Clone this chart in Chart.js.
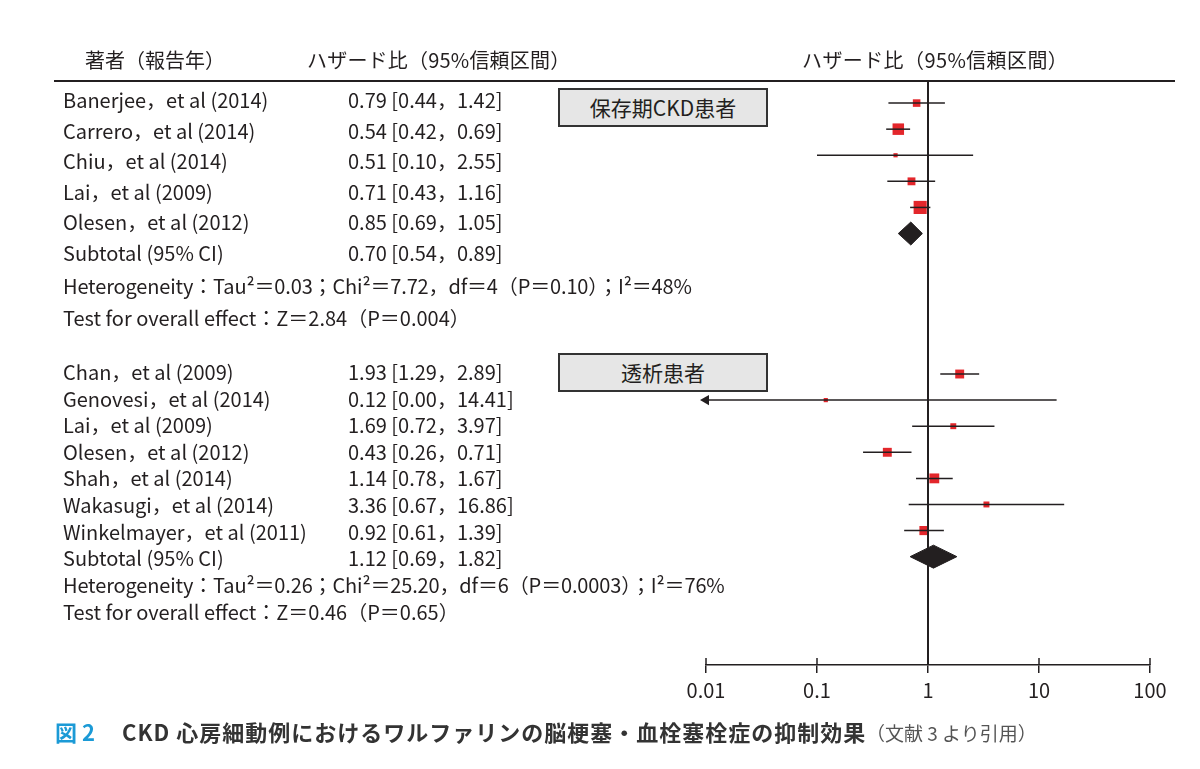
<!DOCTYPE html>
<html><head><meta charset="utf-8">
<script src="https://cdn.jsdelivr.net/npm/chart.js@4.4.1/dist/chart.umd.min.js"></script>
<style>
html,body{margin:0;padding:0;background:#fff;}
#wrap{position:relative;width:1200px;height:769px;overflow:hidden;font-family:"Noto Sans CJK JP","Noto Sans",sans-serif;color:#231f20;}
#cv{position:absolute;left:0;top:0;}
.t{position:absolute;white-space:nowrap;font-size:20px;line-height:24px;}
.box{position:absolute;background:#e6e6e6;border:2px solid #333;box-sizing:border-box;text-align:center;font-size:21px;line-height:35px;}
.rule{position:absolute;left:54px;width:1121px;top:80px;height:0;border-top:2px solid #231f20;}
.cap{position:absolute;white-space:nowrap;font-weight:bold;font-size:22px;line-height:28px;}
</style></head>
<body>
<div id="wrap">
<canvas id="cv" width="1200" height="769"></canvas>
<div class="rule"></div>
</div>
<script>
// ---------- data ----------
const group1Studies = ['Banerjee，et al (2014)','Carrero，et al (2014)','Chiu，et al (2014)','Lai，et al (2009)','Olesen，et al (2012)'];
const group1HR = [0.79, 0.54, 0.51, 0.71, 0.85];
const group1Lower = [0.44, 0.42, 0.10, 0.43, 0.69];
const group1Upper = [1.42, 0.69, 2.55, 1.16, 1.05];
const group1Weight = [13, 30, 4, 14, 39];
const group1Subtotal = [0.70, 0.54, 0.89];
const group1Label = '保存期CKD患者';
const group1Het = 'Heterogeneity：Tau²＝0.03；Chi²＝7.72，df＝4（P＝0.10）；I²＝48%';
const group1Test = 'Test for overall effect：Z＝2.84（P＝0.004）';

const group2Studies = ['Chan，et al (2009)','Genovesi，et al (2014)','Lai，et al (2009)','Olesen，et al (2012)','Shah，et al (2014)','Wakasugi，et al (2014)','Winkelmayer，et al (2011)'];
const group2HR = [1.93, 0.12, 1.69, 0.43, 1.14, 3.36, 0.92];
const group2Lower = [1.29, 0.00, 0.72, 0.26, 0.78, 0.67, 0.61];
const group2Upper = [2.89, 14.41, 3.97, 0.71, 1.67, 16.86, 1.39];
const group2Weight = [18, 4, 8, 18, 22, 8, 19];
const group2Subtotal = [1.12, 0.69, 1.82];
const group2Label = '透析患者';
const group2Het = 'Heterogeneity：Tau²＝0.26；Chi²＝25.20，df＝6（P＝0.0003）；I²＝76%';
const group2Test = 'Test for overall effect：Z＝0.46（P＝0.65）';

const tickValues = [0.01, 0.1, 1, 10, 100];
const tickLabels = ['0.01', '0.1', '1', '10', '100'];
const headerAuthor = '著者（報告年）';
const headerHR = 'ハザード比（95%信頼区間）';
const captionFig = '図 2';
const captionMain = 'CKD 心房細動例におけるワルファリンの脳梗塞・血栓塞栓症の抑制効果';
const captionRef = '（文献 3 より引用）';

// ---------- layout / style ----------
const X_MIN = 0.01, X_MAX = 100;
const Y_MIN = -0.846, Y_MAX = 21.538;
const G1_START = 0, G2_START = 10.385;
const DIAMOND_HALF = 0.44;
const BOX_SCALE = 2.1 / Math.SQRT2;   // square side ~ 2.1*sqrt(weight)
const INK = '#231f20';
const RED = '#e3262b';
const FONT = '"Noto Sans CJK JP","Noto Sans",sans-serif';

const wrap = document.getElementById('wrap');
function addText(txt, left, cy, cls, extra) {
  const d = document.createElement('div');
  d.className = cls || 't';
  d.textContent = txt;
  d.style.left = left + 'px';
  d.style.top = (cy - 12) + 'px';
  if (extra) Object.assign(d.style, extra);
  wrap.appendChild(d);
  return d;
}
function fmt(v) { return v.toFixed(2); }

// headers
addText(headerAuthor, 85, 60);
addText(headerHR, 307, 60, 't', {letterSpacing: '0.2px'});
addText(headerHR, 802, 60, 't', {letterSpacing: '0.4px'});

// group 1 text
const g1Rows = group1Studies.length;
for (let i = 0; i < g1Rows; i++) {
  const cy = 100 + 30.6 * i;
  addText(group1Studies[i], 63, cy);
  addText(fmt(group1HR[i]) + ' [' + fmt(group1Lower[i]) + '，' + fmt(group1Upper[i]) + ']', 348, cy);
}
addText('Subtotal (95% CI)', 63, 100 + 30.6 * g1Rows);
addText(fmt(group1Subtotal[0]) + ' [' + fmt(group1Subtotal[1]) + '，' + fmt(group1Subtotal[2]) + ']', 348, 100 + 30.6 * g1Rows);
addText(group1Het, 63, 286, 't', {letterSpacing: '-0.15px'});
addText(group1Test, 63, 318);

// group 2 text
const g2Rows = group2Studies.length;
for (let i = 0; i < g2Rows; i++) {
  const cy = 372 + 26.6 * i;
  addText(group2Studies[i], 63, cy);
  addText(fmt(group2HR[i]) + ' [' + fmt(group2Lower[i]) + '，' + fmt(group2Upper[i]) + ']', 348, cy);
}
addText('Subtotal (95% CI)', 63, 372 + 26.6 * g2Rows);
addText(fmt(group2Subtotal[0]) + ' [' + fmt(group2Subtotal[1]) + '，' + fmt(group2Subtotal[2]) + ']', 348, 372 + 26.6 * g2Rows);
addText(group2Het, 63, 585, 't', {letterSpacing: '-0.15px'});
addText(group2Test, 63, 612);

// label boxes
function addBox(txt, top) {
  const d = document.createElement('div');
  d.className = 'box';
  d.textContent = txt;
  Object.assign(d.style, {left: '558px', top: top + 'px', width: '210px', height: '39px'});
  wrap.appendChild(d);
}
addBox(group1Label, 88);
addBox(group2Label, 353);

// caption
addText(captionFig, 55, 729, 'cap', {color: '#1b9ad6'});
addText(captionMain, 122, 729, 'cap', {color: '#333', letterSpacing: '1px'});
addText(captionRef, 866, 731, 'cap', {color: '#555', fontWeight: 'normal', fontSize: '19px'});

// ---------- datasets ----------
const datasets = [];
function addGroup(hr, lo, hi, start) {
  for (let i = 0; i < hr.length; i++) {
    datasets.push({
      type: 'scatter', showLine: true, borderColor: INK, borderWidth: 1.5,
      pointRadius: 0, clip: false,
      data: [{x: Math.max(lo[i], X_MIN), y: start + i}, {x: hi[i], y: start + i}]
    });
  }
}
addGroup(group1HR, group1Lower, group1Upper, G1_START);
addGroup(group2HR, group2Lower, group2Upper, G2_START);

// arrows for CIs truncated at the axis minimum
const arrowPts = [];
group1Lower.forEach((v, i) => { if (v < X_MIN) arrowPts.push({x: X_MIN, y: G1_START + i}); });
group2Lower.forEach((v, i) => { if (v < X_MIN) arrowPts.push({x: X_MIN, y: G2_START + i}); });
datasets.push({
  type: 'scatter', data: arrowPts, pointStyle: 'triangle', rotation: -90,
  pointRadius: 6, backgroundColor: INK, borderColor: INK, borderWidth: 0, clip: false
});

// reference line at HR = 1
datasets.push({
  type: 'scatter', showLine: true, borderColor: INK, borderWidth: 2, pointRadius: 0,
  data: [{x: 1, y: Y_MIN}, {x: 1, y: Y_MAX}]
});

// squares (area ~ weight)
const sqPts = [], sqR = [];
group1HR.forEach((v, i) => { sqPts.push({x: v, y: G1_START + i}); sqR.push(BOX_SCALE * Math.sqrt(group1Weight[i])); });
group2HR.forEach((v, i) => { sqPts.push({x: v, y: G2_START + i}); sqR.push(BOX_SCALE * Math.sqrt(group2Weight[i])); });
datasets.push({
  type: 'scatter', data: sqPts, pointStyle: 'rect', pointRadius: sqR,
  backgroundColor: RED, borderWidth: 0, clip: false
});

// subtotal diamonds
function diamond(sub, row) {
  return {
    type: 'scatter', showLine: true, fill: 'shape', backgroundColor: INK, borderColor: INK,
    borderWidth: 1, pointRadius: 0, clip: false,
    data: [
      {x: sub[1], y: row}, {x: sub[0], y: row - DIAMOND_HALF},
      {x: sub[2], y: row}, {x: sub[0], y: row + DIAMOND_HALF}, {x: sub[1], y: row}
    ]
  };
}
datasets.push(diamond(group1Subtotal, G1_START + group1HR.length));
datasets.push(diamond(group2Subtotal, G2_START + group2HR.length));

// upward half of the crossing axis ticks
const innerTicks = {
  id: 'innerTicks',
  afterDraw(chart) {
    const s = chart.scales.x, ctx = chart.ctx;
    ctx.save();
    ctx.strokeStyle = INK; ctx.lineWidth = 1.5;
    s.ticks.forEach(t => {
      const px = s.getPixelForValue(t.value);
      ctx.beginPath(); ctx.moveTo(px, s.top); ctx.lineTo(px, s.top - 7); ctx.stroke();
    });
    ctx.restore();
  }
};

new Chart(document.getElementById('cv'), {
  type: 'scatter',
  data: {datasets},
  plugins: [innerTicks],
  options: {
    responsive: false, animation: false,
    layout: {padding: {left: 706, right: 50, top: 81, bottom: 62}},
    plugins: {legend: {display: false}, tooltip: {enabled: false}},
    scales: {
      x: {
        type: 'logarithmic', min: X_MIN, max: X_MAX, position: 'bottom',
        border: {display: true, color: INK, width: 1.5},
        grid: {drawOnChartArea: false, drawTicks: true, tickLength: 8, color: INK, lineWidth: 1.5},
        afterBuildTicks: s => { s.ticks = tickValues.map(v => ({value: v})); },
        ticks: {
          autoSkip: false, maxRotation: 0, padding: 5, color: INK,
          font: {size: 20, family: FONT},
          callback: v => tickLabels[tickValues.indexOf(v)]
        }
      },
      y: {type: 'linear', display: false, reverse: true, min: Y_MIN, max: Y_MAX}
    }
  }
});
</script>
</body></html>
